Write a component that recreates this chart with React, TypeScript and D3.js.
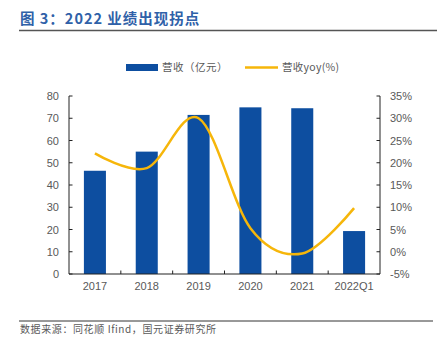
import React from "react";
import * as d3 from "d3";

const categories = ["2017", "2018", "2019", "2020", "2021", "2022Q1"];
const revenue = [46.4, 55.0, 71.5, 74.9, 74.5, 19.3];
const yoy = [22.1, 18.8, 30.0, 5.3, -0.4, 9.8];
const leftTicks = [0, 10, 20, 30, 40, 50, 60, 70, 80];
const rightTicks = [-5, 0, 5, 10, 15, 20, 25, 30, 35];

const W = 437;
const H = 347;
const left = 69;
const right = 380;
const top = 96;
const bottom = 274;
const BLUE = "#0d4ea0";
const ORANGE = "#f6b60a";
const GRAY = "#595959";
const FONT = "'Liberation Sans', Arial, 'Noto Sans CJK SC', sans-serif";
const CJK = "'Noto Sans CJK SC', sans-serif";

export default function App() {
  const x = d3.scaleBand<string>().domain(categories).range([left, right]).paddingInner(0.575).paddingOuter(0.2875);
  const xb = d3.scaleBand<string>().domain(categories).range([left, right]);
  const yL = d3.scaleLinear().domain([0, 80]).range([bottom, top]);
  const yR = d3.scaleLinear().domain([-5, 35]).range([bottom, top]);
  const line = d3
    .line<number>()
    .x((_, i) => (xb(categories[i]) as number) + xb.bandwidth() / 2)
    .y((d) => yR(d))
    .curve(d3.curveCardinal.tension(0));
  const boundaries = categories.slice(1).map((c) => xb(c) as number);

  return (
    <svg width={W} height={H} style={{ position: "absolute", left: 0, top: 0 }}>
      <rect width={W} height={H} fill="#fff" />
      <text x={20} y={24} fill="#2f61a8" fontFamily={CJK} fontWeight="bold" fontSize={14.5} letterSpacing={1}>
        图 3：2022 业绩出现拐点
      </text>
      <line x1={19} x2={437} y1={30.5} y2={30.5} stroke="#555" strokeWidth={1.5} />

      {/* legend */}
      <rect x={126} y={64} width={32} height={7} fill={BLUE} />
      <text x={162} y={71} fill={GRAY} fontFamily={CJK} fontSize={10.5} letterSpacing={0.5}>营收（亿元）</text>
      <line x1={245} x2={278} y1={67.5} y2={67.5} stroke={ORANGE} strokeWidth={2.5} />
      <text x={282} y={71} fill={GRAY} fontFamily={CJK} fontSize={10.5} letterSpacing={0.3}>营收yoy(%)</text>

      {/* bars */}
      {revenue.map((v, i) => (
        <rect
          key={categories[i]}
          x={x(categories[i])}
          y={yL(v)}
          width={x.bandwidth()}
          height={bottom - yL(v)}
          fill={BLUE}
        />
      ))}

      {/* line */}
      <path d={line(yoy) || ""} fill="none" stroke={ORANGE} strokeWidth={2.5} />

      {/* axes */}
      <line x1={left} x2={left} y1={top} y2={bottom} stroke="#222" strokeWidth={1} />
      <line x1={right} x2={right} y1={top} y2={bottom} stroke="#222" strokeWidth={1} />
      <line x1={left} x2={right} y1={bottom} y2={bottom} stroke="#222" strokeWidth={1.2} />
      {leftTicks.map((t) => (
        <g key={"l" + t}>
          <line x1={left} x2={left + 3.5} y1={yL(t)} y2={yL(t)} stroke="#222" />
          <text x={59} y={yL(t) + 4} textAnchor="end" fill={GRAY} fontFamily={FONT} fontSize={11}>
            {t}
          </text>
        </g>
      ))}
      {rightTicks.map((t) => (
        <g key={"r" + t}>
          <line x1={right - 3.5} x2={right} y1={yR(t)} y2={yR(t)} stroke="#222" />
          <text x={390} y={yR(t) + 4} textAnchor="start" fill={GRAY} fontFamily={FONT} fontSize={11}>
            {t}%
          </text>
        </g>
      ))}
      {boundaries.map((b, i) => (
        <line key={"b" + i} x1={b} x2={b} y1={bottom} y2={bottom - 3.5} stroke="#222" />
      ))}
      {categories.map((c) => (
        <text
          key={"x" + c}
          x={(xb(c) as number) + xb.bandwidth() / 2}
          y={290}
          textAnchor="middle"
          fill={GRAY}
          fontFamily={FONT}
          fontSize={11}
        >
          {c}
        </text>
      ))}

      {/* footer */}
      <line x1={19} x2={433} y1={321} y2={321} stroke="#333" strokeWidth={1} />
      <text x={20} y={333} fill={GRAY} fontFamily={CJK} fontSize={10} letterSpacing={0.6}>
        数据来源：同花顺 Ifind，国元证券研究所
      </text>
    </svg>
  );
}
